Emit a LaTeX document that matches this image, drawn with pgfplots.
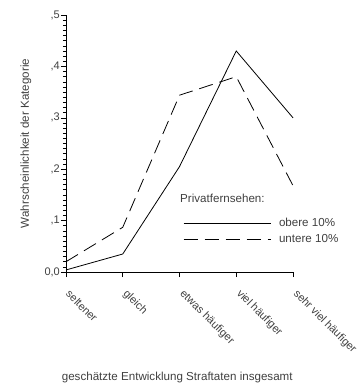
\documentclass[border=0pt]{standalone}
\usepackage{fontspec}
\setmainfont{Liberation Sans}
\usepackage{pgfplots}
\pgfplotsset{compat=1.18}
\definecolor{txt}{HTML}{404040}
\begin{document}
\fontsize{11.6bp}{13bp}\selectfont
\begin{tikzpicture}
\path (-66bp,-116bp) rectangle (296bp,272bp);
\begin{axis}[
  scale only axis,
  width=227bp, height=257bp,
  xmin=0, xmax=4, ymin=0, ymax=0.5,
  axis lines=left,
  axis line style={-, line width=0.8bp, black},
  every tick/.style={black, line width=0.6bp},
  tick align=outside,
  major tick length=5bp,
  minor tick length=3bp,
  xtick={0,1,2,3,4},
  xticklabels={seltener,gleich,etwas häufiger,viel häufiger,sehr viel häufiger},
  xticklabel style={yshift=-15bp, xshift=2bp, rotate=-45, anchor=west, inner sep=0pt, font=\fontsize{11bp}{12bp}\selectfont, text=txt},
  ytick={0,0.1,0.2,0.3,0.4,0.5},
  yticklabels={{0,0},{,1},{,2},{,3},{,4},{,5}},
  minor y tick num=9,
  yticklabel style={font=\fontsize{11bp}{12bp}\selectfont, text=txt, inner sep=1bp},
  xlabel={geschätzte Entwicklung Straftaten insgesamt},
  ylabel={Wahrscheinlichkeit der Kategorie},
  xlabel style={at={(axis description cs:0.49,-0.412)}, anchor=center, text=txt},
  ylabel style={at={(axis description cs:-0.135,0.5)}, anchor=south, rotate=0, text=txt},
  legend style={draw=none, fill=none, at={(axis cs:2.062,0.0798)}, anchor=west, inner sep=0pt, row sep=4bp, font=\fontsize{11.6bp}{13bp}\selectfont, text=txt, nodes={inner sep=1bp}},
  legend image code/.code={\draw[#1] (0bp,0bp) -- (87bp,0bp);},
  legend cell align=left,
  clip=false,
]
\addplot[black, line width=0.8bp] coordinates {(0,0.004) (1,0.035) (2,0.205) (3,0.430) (4,0.300)};
\addlegendentry{\hspace{7bp}obere 10\%}
\addplot[black, line width=0.8bp, dash pattern=on 14bp off 7bp] coordinates {(0,0.020) (1,0.087) (2,0.344) (3,0.380) (4,0.168)};
\addlegendentry{\hspace{7bp}untere 10\%}
\node[anchor=west, inner sep=0pt, text=txt] at (axis cs:2.009,0.144) {Privatfernsehen:};
\end{axis}
\end{tikzpicture}
\end{document}
